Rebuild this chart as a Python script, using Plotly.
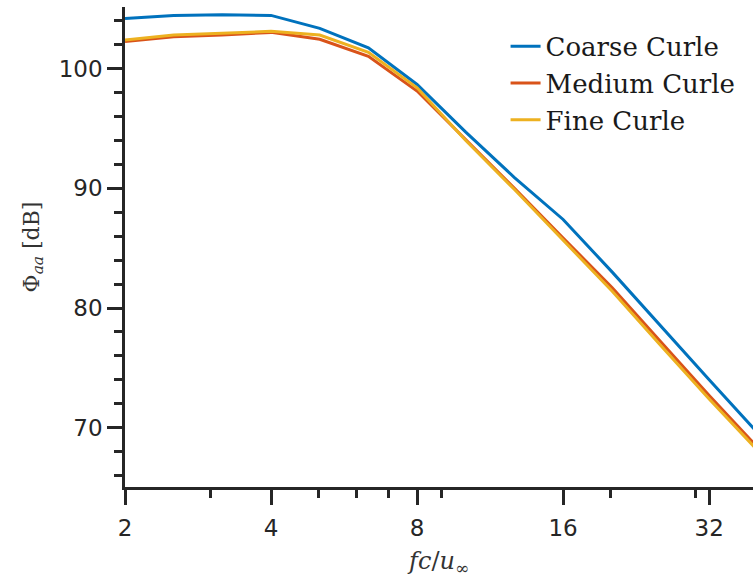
import plotly.graph_objects as go

# 1/3-octave band centres (fc/u_inf)
freq = [2.0, 2.52, 3.17, 4.0, 5.04, 6.35, 8.0, 10.08, 12.7, 16.0, 20.2, 25.4, 32.0, 40.3]
coarse = [104.18, 104.45, 104.5, 104.45, 103.37, 101.74, 98.68, 94.7, 90.9, 87.4, 83.0, 78.5, 74.0, 69.57]
medium = [102.26, 102.66, 102.82, 103.03, 102.45, 101.03, 98.13, 94.1, 90.0, 85.85, 81.7, 77.2, 72.7, 68.35]
fine = [102.39, 102.82, 102.95, 103.12, 102.81, 101.36, 98.4, 94.0, 89.9, 85.7, 81.4, 76.9, 72.4, 68.1]

x_major = [2, 4, 8, 16, 32]
x_minor = [3, 5, 6, 7, 9, 20, 30]
y_major = [70, 80, 90, 100]
y_minor = [66, 68, 72, 74, 76, 78, 82, 84, 86, 88, 92, 94, 96, 98, 102, 104]

series = [("Coarse Curle", coarse, "#0072BD"),
          ("Medium Curle", medium, "#D95319"),
          ("Fine Curle", fine, "#EDB120")]

fig = go.Figure()
for name, vals, col in series:
    fig.add_trace(go.Scatter(x=freq, y=vals, mode="lines", name=name,
                             line=dict(color=col, width=3)))

axcol = "#262626"
fig.update_layout(
    width=753, height=581,
    margin=dict(l=125, r=0, t=7, b=94),
    plot_bgcolor="white", paper_bgcolor="white",
    showlegend=True,
    legend=dict(x=0.606, y=0.967, xanchor="left", yanchor="top",
                bgcolor="rgba(0,0,0,0)",
                font=dict(family="DejaVu Serif", size=26, color="#1a1a1a")),
    xaxis=dict(type="log", range=[0.30103, 1.5955],
               tickvals=x_major, ticktext=[str(v) for v in x_major],
               ticks="outside", ticklen=15, tickwidth=2.5, tickcolor=axcol,
               ticklabelstandoff=4,
               showline=True, linewidth=2.5, linecolor=axcol,
               showgrid=False, zeroline=False,
               tickfont=dict(family="DejaVu Sans", size=23, color=axcol),
               minor=dict(tickvals=x_minor, ticks="outside", ticklen=8,
                          tickwidth=2.5, tickcolor=axcol, showgrid=False),
               title=dict(text="<i>fc</i>/<i>u</i><sub>∞</sub>",
                          font=dict(family="DejaVu Serif", size=24, color="#333333"),
                          standoff=12)),
    yaxis=dict(range=[65.05, 105.15],
               tickvals=y_major,
               ticks="outside", ticklen=15, tickwidth=2.5, tickcolor=axcol,
               showline=True, linewidth=2.5, linecolor=axcol,
               showgrid=False, zeroline=False,
               tickfont=dict(family="DejaVu Sans", size=23, color=axcol),
               minor=dict(tickvals=y_minor, ticks="outside", ticklen=8,
                          tickwidth=2.5, tickcolor=axcol, showgrid=False),
               title=dict(text="Φ<sub><i>aa</i></sub> [dB]",
                          font=dict(family="DejaVu Serif", size=22, color="#333333"),
                          standoff=14)),
)

fig.write_html("out.html")
